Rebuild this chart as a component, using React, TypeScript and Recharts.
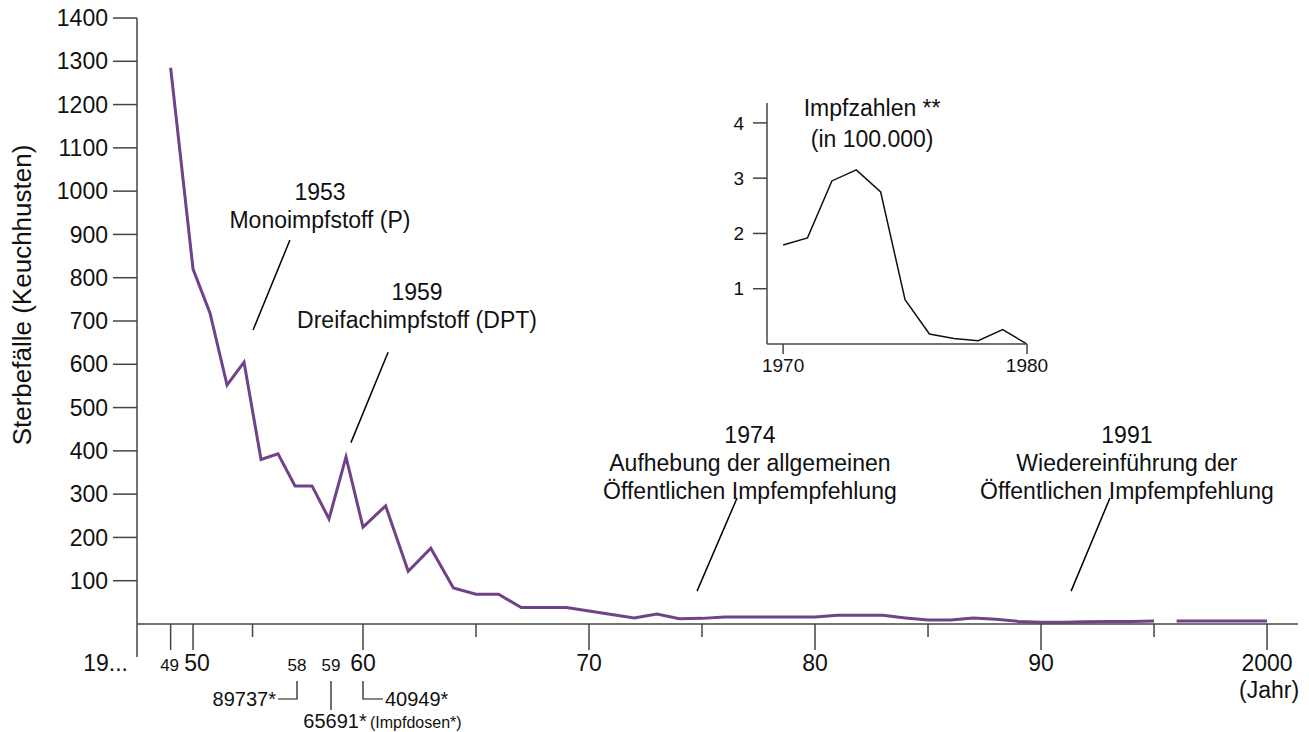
import React from "react";
import { LineChart, Line, XAxis, YAxis, ReferenceLine, ReferenceDot } from "recharts";

// Sterbefälle Keuchhusten, one value per year
const years = [
  1949, 1950, 1951, 1952, 1953, 1954, 1955, 1956, 1957, 1958, 1959,
  1960, 1961, 1962, 1963, 1964, 1965, 1966, 1967, 1968, 1969,
  1970, 1971, 1972, 1973, 1974, 1975, 1976, 1977, 1978, 1979,
  1980, 1981, 1982, 1983, 1984, 1985, 1986, 1987, 1988, 1989,
  1990, 1991, 1992, 1993, 1994, 1995, 1996, 1997, 1998, 1999, 2000,
];
const deaths = [
  1285, 820, 718, 552, 605, 380, 393, 319, 319, 243, 386,
  224, 273, 122, 175, 83, 69, 69, 38, 38, 38,
  30, 22, 14, 23, 12, 13, 16, 16, 16, 16,
  16, 20, 20, 20, 14, 9, 9, 14, 11, 6,
  4, 4, 5, 6, 6, 7, 7, 7, 7, 7, 7,
];
// the line is interrupted after this year
const gapAfter = 1995;

const yTicks = [100, 200, 300, 400, 500, 600, 700, 800, 900, 1000, 1100, 1200, 1300, 1400];

const xTickYears = [1947.5, 1949, 1950, 1953.5, 1960, 1965, 1970, 1975, 1980, 1985, 1990, 1995, 2000];
const xTickLabels = ["19...", "49", "50", "", "60", "", "70", "", "80", "", "90", "", "2000"];

// Impfdosen shown under the axis (1958, 1959, 1960)
const doseYears = ["58", "59"];
const doseCounts = ["89737*", "65691*", "40949*"];

// inset: Impfzahlen in 100.000
const insetYears = [1970, 1971, 1972, 1973, 1974, 1975, 1976, 1977, 1978, 1979, 1980];
const insetDoses = [1.79, 1.92, 2.95, 3.15, 2.75, 0.8, 0.18, 0.1, 0.06, 0.26, 0];

const notes = [
  { year: 1957.47, value: 980, lines: ["1953", "Monoimpfstoff (P)"], from: [1953.53, 679], to: [1955.7, 887] },
  { year: 1962.39, value: 748, lines: ["1959", "Dreifachimpfstoff (DPT)"], from: [1959.29, 419], to: [1961.11, 628] },
  {
    year: 1977.12, value: 418,
    lines: ["1974", "Aufhebung der allgemeinen", "Öffentlichen Impfempfehlung"],
    from: [1974.78, 76], to: [1976.55, 291],
  },
  {
    year: 1993.8, value: 418,
    lines: ["1991", "Wiedereinführung der", "Öffentlichen Impfempfehlung"],
    from: [1991.33, 76], to: [1993.05, 291],
  },
];

const purple = "#6f4289";
const axisColor = "#444";
const textColor = "#111";

// the original axis squeezes the 1950s, so years go through a piecewise scale
const axisYears = [1947.5, 1950, 1960, 2000];
const axisUnits = [0, 2.48, 10, 50];
function warp(year: number) {
  for (let i = 1; i < axisYears.length; i++) {
    if (year <= axisYears[i] || i === axisYears.length - 1) {
      const t = (year - axisYears[i - 1]) / (axisYears[i] - axisYears[i - 1]);
      return axisUnits[i - 1] + t * (axisUnits[i] - axisUnits[i - 1]);
    }
  }
  return 0;
}

const rows = years.map((y, i) => ({
  pos: warp(y),
  early: y <= gapAfter ? deaths[i] : null,
  late: y > gapAfter ? deaths[i] : null,
}));

const insetRows = insetYears.map((y, i) => ({ year: y, doses: insetDoses[i] }));

function YearTick(props: any) {
  const { x, y, payload } = props;
  const idx = xTickYears.findIndex((yr) => Math.abs(warp(yr) - payload.value) < 1e-6);
  const label = xTickLabels[idx] ?? "";
  const isOrigin = idx === 0;
  const small = label === "49";
  const len = label === "" ? 13 : isOrigin ? 33 : 26;
  let tx = x;
  if (isOrigin) tx = x - 9;
  else if (label === "50") tx = x + 4;
  else if (small) tx = x - 1;
  return (
    <g>
      <line x1={x} y1={y} x2={x} y2={y + len} stroke={axisColor} strokeWidth={1.5} />
      {label !== "" && (
        <text
          x={tx}
          y={y + 47}
          textAnchor={isOrigin ? "end" : "middle"}
          fontSize={small ? 17 : 23}
          fill={textColor}
        >
          {label}
        </text>
      )}
      {label === "2000" && (
        <text x={x + 2} y={y + 74} textAnchor="middle" fontSize={23} fill={textColor}>(Jahr)</text>
      )}
      {label === "60" && (
        <g fill={textColor}>
          <text x={x - 66} y={y + 47} textAnchor="middle" fontSize={17}>{doseYears[0]}</text>
          <text x={x - 32} y={y + 47} textAnchor="middle" fontSize={17}>{doseYears[1]}</text>
          <polyline points={`${x - 66},${y + 57} ${x - 66},${y + 75} ${x - 85},${y + 75}`} fill="none" stroke={textColor} strokeWidth={1.2} />
          <polyline points={`${x - 32},${y + 57} ${x - 32},${y + 86}`} fill="none" stroke={textColor} strokeWidth={1.2} />
          <polyline points={`${x},${y + 57} ${x},${y + 75} ${x + 20},${y + 75}`} fill="none" stroke={textColor} strokeWidth={1.2} />
          <text x={x - 87} y={y + 82} textAnchor="end" fontSize={20}>{doseCounts[0]}</text>
          <text x={x - 28} y={y + 104} textAnchor="middle" fontSize={20}>{doseCounts[1]}</text>
          <text x={x + 7} y={y + 104} textAnchor="start" fontSize={16}>(Impfdosen*)</text>
          <text x={x + 22} y={y + 82} textAnchor="start" fontSize={20}>{doseCounts[2]}</text>
        </g>
      )}
    </g>
  );
}

const noteLabel = (lines: string[], size = 23, gap = 28) => (props: any) => {
  const { x, y } = props.viewBox;
  return (
    <text x={x} y={y} textAnchor="middle" fontSize={size} fill={textColor}>
      {lines.map((l, i) => (
        <tspan key={i} x={x} dy={i === 0 ? 0 : gap}>{l}</tspan>
      ))}
    </text>
  );
};

const yTitle = (props: any) => {
  const { x, y, height } = props.viewBox;
  const cx = x + 22;
  const cy = y + height / 2 - 26;
  return (
    <text
      x={cx}
      y={cy}
      transform={`rotate(-90, ${cx}, ${cy})`}
      textAnchor="middle"
      dominantBaseline="central"
      fontSize={26}
      fill={textColor}
    >
      Sterbefälle (Keuchhusten)
    </text>
  );
};

export default function App() {
  return (
    <div
      style={{
        position: "relative",
        width: 1309,
        height: 732,
        background: "#fff",
        fontFamily: "'Liberation Sans', Arial, sans-serif",
      }}
    >
      <style>{"body{margin:0}"}</style>
      <LineChart width={1309} height={732} data={rows} margin={{ top: 18, right: 11, bottom: 0, left: 0 }}>
        <XAxis
          type="number"
          dataKey="pos"
          domain={[0, 51.37]}
          ticks={xTickYears.map(warp)}
          tick={<YearTick />}
          tickLine={false}
          tickSize={0}
          tickMargin={0}
          interval={0}
          height={108}
          allowDataOverflow
          axisLine={{ stroke: axisColor, strokeWidth: 1.5 }}
        />
        <YAxis
          type="number"
          domain={[0, 1400]}
          ticks={yTicks}
          width={137}
          tickSize={24}
          tickMargin={5}
          interval={0}
          allowDataOverflow
          tick={{ fontSize: 23, fill: textColor }}
          axisLine={{ stroke: axisColor, strokeWidth: 1.5 }}
          tickLine={{ stroke: axisColor, strokeWidth: 1.5 }}
          label={yTitle}
        />
        <Line type="linear" dataKey="early" stroke={purple} strokeWidth={3} dot={false} isAnimationActive={false} />
        <Line type="linear" dataKey="late" stroke={purple} strokeWidth={3} dot={false} isAnimationActive={false} />
        {notes.map((n, i) => (
          <ReferenceLine
            key={"l" + i}
            segment={[
              { x: warp(n.from[0]), y: n.from[1] },
              { x: warp(n.to[0]), y: n.to[1] },
            ]}
            stroke="#000"
            strokeWidth={1.5}
          />
        ))}
        {notes.map((n, i) => (
          <ReferenceDot
            key={"t" + i}
            x={warp(n.year)}
            y={n.value}
            r={0}
            fill="none"
            stroke="none"
            label={noteLabel(n.lines)}
          />
        ))}
      </LineChart>

      <div style={{ position: "absolute", left: 700, top: 90 }}>
        <LineChart width={370} height={300} data={insetRows} margin={{ top: 13, right: 43, bottom: 0, left: 0 }}>
          <XAxis
            type="number"
            dataKey="year"
            domain={[1969.34, 1980]}
            ticks={[1970, 1980]}
            allowDataOverflow
            height={46}
            tickSize={10}
            tickMargin={5}
            interval={0}
            tick={{ fontSize: 19, fill: textColor }}
            axisLine={{ stroke: axisColor, strokeWidth: 1.5 }}
            tickLine={{ stroke: axisColor, strokeWidth: 1.5 }}
          />
          <YAxis
            type="number"
            domain={[0, 4.36]}
            ticks={[1, 2, 3, 4]}
            allowDataOverflow
            width={67}
            tickSize={14}
            tickMargin={9}
            interval={0}
            tick={{ fontSize: 19, fill: textColor }}
            axisLine={{ stroke: axisColor, strokeWidth: 1.5 }}
            tickLine={{ stroke: axisColor, strokeWidth: 1.5 }}
          />
          <Line type="linear" dataKey="doses" stroke="#111" strokeWidth={1.5} dot={false} isAnimationActive={false} />
          <ReferenceDot
            x={1973.65}
            y={4.13}
            r={0}
            fill="none"
            stroke="none"
            label={noteLabel(["Impfzahlen **", "(in 100.000)"], 23, 31)}
          />
        </LineChart>
      </div>
    </div>
  );
}
